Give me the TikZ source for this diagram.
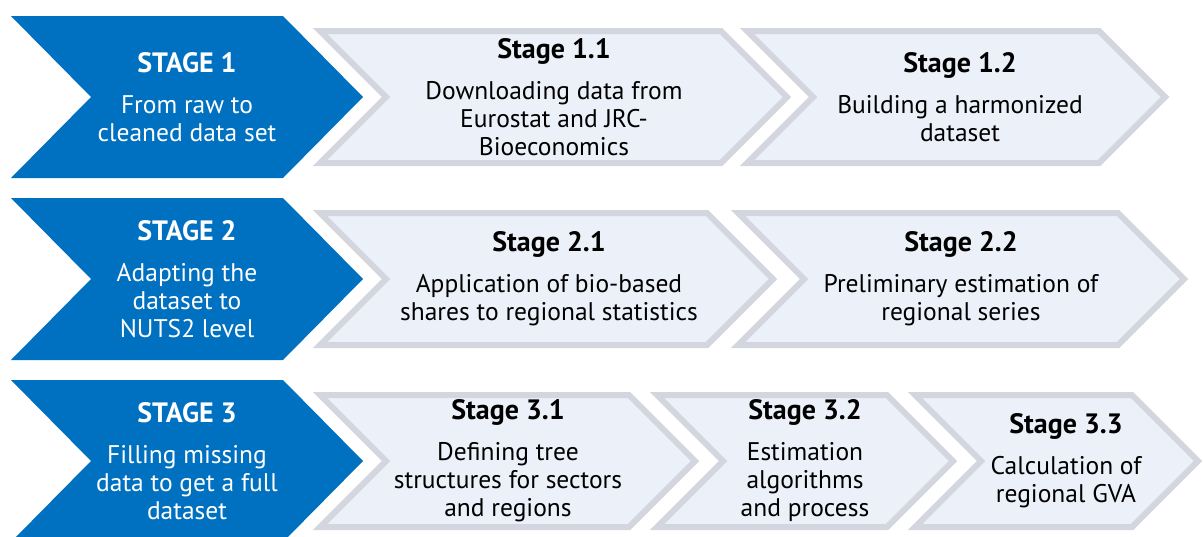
\documentclass[tikz,border=0pt]{standalone}
\usepackage{fontspec}
\setmainfont{PT Sans}
\definecolor{stageblue}{HTML}{0070C0}
\definecolor{subfill}{HTML}{ECF0F8}
\definecolor{subline}{HTML}{D3D6DE}
\newcommand{\stagehead}[1]{{\fontsize{28}{28}\selectfont\bfseries #1}}
\tikzset{
  mainstage/.style={fill=stageblue},
  substage/.style={fill=subfill, draw=subline, line width=6pt, line join=miter},
  maintext/.style={text=white, align=center, font=\fontsize{25.5}{28}\selectfont},
  subtext/.style={text=black, align=center, font=\fontsize{25.5}{28}\selectfont}
}
\begin{document}
\begin{tikzpicture}[x=1pt,y=-1pt]
    \useasboundingbox (0,0) rectangle (1203,536);
    \clip (0,0) rectangle (1203,536);
    \foreach \y in {97,279,461} \fill[mainstage] (11,\y-81) -- (283,\y-81) -- (363,\y) -- (283,\y+81) -- (11,\y+81) -- (91,\y) -- cycle;
    \foreach \l/\r/\y in {313/722/97, 740/1100/97, 313/708/279, 731/1119/279, 313/630/461, 650/888/461, 908/1133/461}
        \filldraw[substage] (\l+7,\y-66) -- (\r-1,\y-66) -- (\r+65,\y) -- (\r-1,\y+66) -- (\l+7,\y+66) -- (\l+73,\y) -- cycle;
    \node[maintext] (s1) at (187,97) {\stagehead{STAGE 1}\\[13pt]From raw to\\cleaned data set};
    \node[maintext] (s2) at (187,279) {\stagehead{STAGE 2}\\[13pt]Adapting the\\dataset to\\NUTS2 level};
    \node[maintext] (s3) at (187,461) {\stagehead{STAGE 3}\\[13pt]Filling missing\\data to get a full\\dataset};
    \node[subtext] (s11) at (554,97) {\stagehead{Stage 1.1}\\[13pt]Downloading data from\\Eurostat and JRC-\\Bioeconomics};
    \node[subtext] (s12) at (960,97) {\stagehead{Stage 1.2}\\[13pt]Building a harmonized\\dataset};
    \node[subtext] (s21) at (549,279) {\stagehead{Stage 2.1}\\[13pt]Application of bio-based\\shares to regional statistics};
    \node[subtext] (s22) at (961,279) {\stagehead{Stage 2.2}\\[13pt]Preliminary estimation of\\regional series};
    \node[subtext] (s31) at (508,461) {\stagehead{Stage 3.1}\\[13pt]Defining tree\\structures for sectors\\and regions};
    \node[subtext] (s32) at (805,461) {\stagehead{Stage 3.2}\\[13pt]Estimation\\algorithms\\and process};
    \node[subtext] (s33) at (1066,461) {\stagehead{Stage 3.3}\\[13pt]Calculation of\\regional GVA};
\end{tikzpicture}
\end{document}
